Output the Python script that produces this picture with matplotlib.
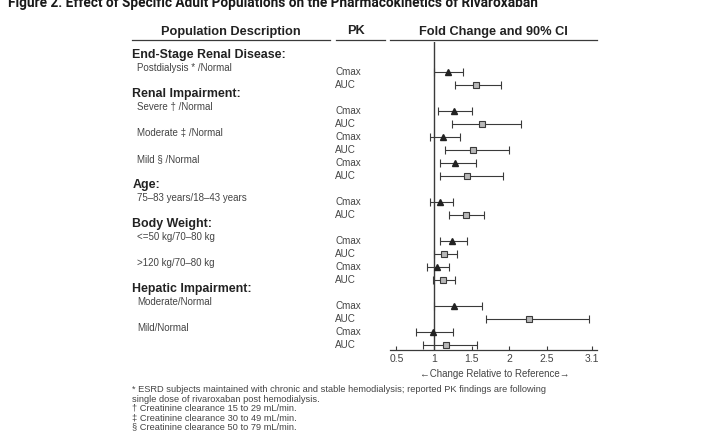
import matplotlib
matplotlib.use("Agg")
import matplotlib.pyplot as plt
from matplotlib.lines import Line2D
from matplotlib.transforms import blended_transform_factory

plt.rcParams['font.family'] = ['Liberation Sans', 'DejaVu Sans']

# Populations, their group, and fold change (point, 90% CI) for Cmax and AUC
group_names = ["End-Stage Renal Disease:", "Renal Impairment:", "Age:",
               "Body Weight:", "Hepatic Impairment:"]
populations = ["Postdialysis * /Normal", "Severe \u2020 /Normal", "Moderate \u2021 /Normal",
               "Mild \u00a7 /Normal", "75\u201383 years/18\u201343 years",
               "<=50 kg/70\u201380 kg", ">120 kg/70\u201380 kg",
               "Moderate/Normal", "Mild/Normal"]
population_group = [0, 1, 1, 1, 2, 3, 3, 4, 4]

cmax_fold = [1.18, 1.26, 1.12, 1.28, 1.08, 1.24, 1.04, 1.27, 0.98]
cmax_lo = [1.00, 1.05, 0.94, 1.08, 0.95, 1.08, 0.90, 1.00, 0.76]
cmax_hi = [1.38, 1.51, 1.34, 1.56, 1.25, 1.44, 1.20, 1.64, 1.25]

auc_fold = [1.56, 1.64, 1.52, 1.44, 1.42, 1.13, 1.12, 2.26, 1.16]
auc_lo = [1.28, 1.24, 1.15, 1.08, 1.20, 1.00, 0.98, 1.69, 0.85]
auc_hi = [1.89, 2.16, 2.00, 1.92, 1.66, 1.30, 1.28, 3.06, 1.57]

x_ticks = [0.5, 1, 1.5, 2, 2.5, 3.1]
x_tick_labels = ["0.5", "1", "1.5", "2", "2.5", "3.1"]

title = "Figure 2. Effect of Specific Adult Populations on the Pharmacokinetics of Rivaroxaban"
footnotes = [
    "* ESRD subjects maintained with chronic and stable hemodialysis; reported PK findings are following",
    "single dose of rivaroxaban post hemodialysis.",
    "\u2020 Creatinine clearance 15 to 29 mL/min.",
    "\u2021 Creatinine clearance 30 to 49 mL/min.",
    "\u00a7 Creatinine clearance 50 to 79 mL/min.",
]

# row layout: a header row whenever a new group starts, then Cmax / AUC rows
header_rows, cmax_rows, auc_rows = [], [], []
row = 0
last_group = None
for g in population_group:
    if g != last_group:
        header_rows.append(row)
        row += 1
        last_group = g
    cmax_rows.append(row)
    auc_rows.append(row + 1)
    row += 2

W, H = 715, 432
def fx(px):
    return px / W
def fy(py):
    return 1 - py / H

fig = plt.figure(figsize=(W / 100, H / 100), dpi=100)
fig.patch.set_facecolor("white")

ax = fig.add_axes([fx(390), fy(350), fx(597) - fx(390), fy(42) - fy(350)])
ax.set_xlim(1 - 44 / 75, 1 + 163 / 75)
ax.set_ylim(1 + 278 / 13, 1 - 30 / 13)

ink = "#222222"
soft = "#3a3a3a"
grey_text = "#444444"

ax.axvline(1, color=soft, lw=1.0, zorder=1)

ax.errorbar(cmax_fold, cmax_rows,
            xerr=[[f - l for f, l in zip(cmax_fold, cmax_lo)],
                  [h - f for f, h in zip(cmax_fold, cmax_hi)]],
            fmt="^", ms=4.5, color=ink, ecolor=soft, elinewidth=0.8,
            capsize=3, capthick=0.8, zorder=3)
ax.errorbar(auc_fold, auc_rows,
            xerr=[[f - l for f, l in zip(auc_fold, auc_lo)],
                  [h - f for f, h in zip(auc_fold, auc_hi)]],
            fmt="s", ms=4, mfc="#b8b8b8", mec=soft, mew=0.8, ecolor=soft,
            elinewidth=0.8, capsize=3, capthick=0.8, zorder=3)

for side in ["left", "top", "right"]:
    ax.spines[side].set_visible(False)
ax.spines["bottom"].set_color(soft)
ax.spines["bottom"].set_linewidth(0.9)
ax.set_yticks([])
ax.set_xticks(x_ticks)
ax.set_xticklabels(x_tick_labels)
ax.tick_params(axis="x", direction="in", length=3, width=0.8, color=soft,
               labelsize=7.5, labelcolor=grey_text, pad=3)

fig.text(fx(495), fy(374), "\u2190Change Relative to Reference\u2192",
         ha="center", va="center", fontsize=7, color=grey_text)

# left-hand labels: figure x, data y
tr = blended_transform_factory(fig.transFigure, ax.transData)
for name, r in zip(group_names, header_rows):
    ax.text(fx(132.5), r - 0.3, name, transform=tr, ha="left", va="center",
            fontsize=8.9, weight="bold", color=ink)
for name, r in zip(populations, cmax_rows):
    ax.text(fx(137), r - 0.27, name, transform=tr, ha="left", va="center",
            fontsize=7, color=grey_text)
for r in cmax_rows:
    ax.text(fx(335), r, "Cmax", transform=tr, ha="left", va="center",
            fontsize=7.1, color=grey_text)
for r in auc_rows:
    ax.text(fx(335), r, "AUC", transform=tr, ha="left", va="center",
            fontsize=7.1, color=grey_text)

# column headers with their underlines
fig.text(fx(231), fy(31.5), "Population Description", ha="center", va="center",
         fontsize=9.2, weight="bold", color=ink)
fig.text(fx(356), fy(31.5), "PK", ha="center", va="center",
         fontsize=9.2, weight="bold", color=ink)
fig.text(fx(493.5), fy(31.5), "Fold Change and 90% CI", ha="center", va="center",
         fontsize=9.2, weight="bold", color=ink)
for x0, x1 in [(131.5, 330), (336, 385), (390, 597)]:
    fig.add_artist(Line2D([fx(x0), fx(x1)], [fy(40), fy(40)], color=soft, lw=0.9))

fig.text(fx(8), fy(6.5), title, ha="left", va="baseline", fontsize=9.8, weight="bold",
         family=["Roboto", "Liberation Sans"], color="#1a1a1a")

for i, line in enumerate(footnotes):
    fig.text(fx(131.5), fy(390 + i * 9.2), line, ha="left", va="center",
             fontsize=6.7, color=grey_text)

fig.savefig("out.png", dpi=100, facecolor="white")
